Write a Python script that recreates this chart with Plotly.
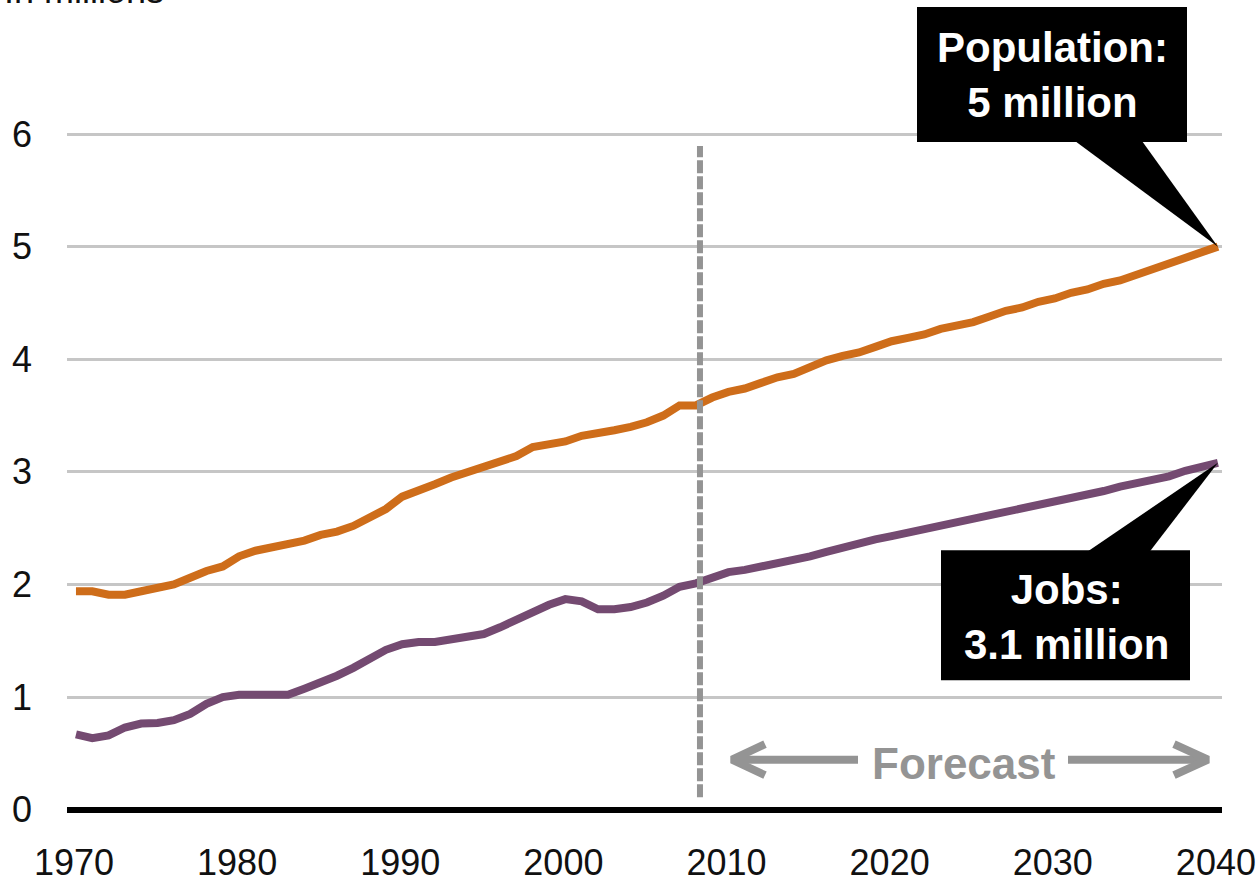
import plotly.graph_objects as go

# ---------------- data ----------------
years = list(range(1970, 2041))
population = [
    1.94, 1.94, 1.91, 1.91, 1.94, 1.97, 2.00, 2.06, 2.12, 2.16,
    2.25, 2.30, 2.33, 2.36, 2.39, 2.44, 2.47, 2.52, 2.59, 2.67,
    2.78, 2.83, 2.89, 2.95, 3.00, 3.04, 3.09, 3.14, 3.22, 3.25,
    3.27, 3.32, 3.34, 3.37, 3.40, 3.44, 3.50, 3.59, 3.59, 3.66,
    3.71, 3.74, 3.79, 3.84, 3.87, 3.93, 3.99, 4.03, 4.06, 4.11,
    4.16, 4.19, 4.22, 4.27, 4.30, 4.33, 4.38, 4.43, 4.46, 4.51,
    4.54, 4.59, 4.62, 4.67, 4.70, 4.75, 4.79, 4.84, 4.89, 4.94,
    5.00,
]
jobs = [
    0.67, 0.635, 0.66, 0.73, 0.765, 0.77, 0.795, 0.85, 0.94, 1.00,
    1.02, 1.02, 1.02, 1.02, 1.075, 1.13, 1.19, 1.26, 1.34, 1.42,
    1.47, 1.49, 1.49, 1.51, 1.53, 1.56, 1.62, 1.69, 1.76, 1.82,
    1.87, 1.85, 1.78, 1.78, 1.80, 1.84, 1.90, 1.98, 2.01, 2.06,
    2.11, 2.13, 2.16, 2.19, 2.21, 2.25, 2.29, 2.33, 2.37, 2.40,
    2.43, 2.46, 2.49, 2.52, 2.55, 2.59, 2.61, 2.64, 2.67, 2.71,
    2.74, 2.77, 2.80, 2.83, 2.87, 2.90, 2.93, 2.96, 3.01, 3.04,
    3.08,
]
x_ticks = [1970, 1980, 1990, 2000, 2010, 2020, 2030, 2040]
y_ticks = [0, 1, 2, 3, 4, 5, 6]
forecast_start = 2008.25
pop_label = "Population:<br>5 million"
jobs_label = "Jobs:<br>3.1 million"
unit_label = "In millions"
forecast_label = "Forecast"

# ---------------- layout geometry ----------------
W, H = 1256, 884
ML, MR, MT, MB = 67, 34, 100, 63.24
X0, X1 = 1969.45, 2040.25
Y0, Y1 = -0.1, 6.302
PW = W - ML - MR
PH = H - MT - MB

ORANGE = "#CE6D1A"
PURPLE = "#744A71"
GREY = "#949494"
TICKFONT = dict(family="Liberation Sans Narrow, Arial Narrow, Liberation Sans, Arial, sans-serif",
                size=36, color="#111111")
BOLD = "Liberation Sans, Arial, sans-serif"


def px_x(p):   # pixel -> paper x
    return (p - ML) / PW


def px_y(p):   # pixel -> paper y
    return (H - MB - p) / PH


def dx(p):     # pixel -> data x
    return X0 + (p - ML) / PW * (X1 - X0)


def dy(p):     # pixel -> data y
    return Y0 + (H - MB - p) / PH * (Y1 - Y0)


def data_to_paper(x, y):
    return (x - X0) / (X1 - X0), (y - Y0) / (Y1 - Y0)


fig = go.Figure()

fig.add_trace(go.Scatter(x=years, y=population, mode="lines",
                         line=dict(color=ORANGE, width=8), hoverinfo="skip",
                         showlegend=False))
fig.add_trace(go.Scatter(x=years, y=jobs, mode="lines",
                         line=dict(color=PURPLE, width=8), hoverinfo="skip",
                         showlegend=False))

# forecast arrows
ay = 759.5
arrow_x = [dx(765), dx(732), dx(765), None, dx(732), dx(858), None,
           dx(1068), dx(1208), None, dx(1174), dx(1208), dx(1174)]
arrow_y = [dy(744), dy(ay), dy(775), None, dy(ay), dy(ay), None,
           dy(ay), dy(ay), None, dy(744), dy(ay), dy(775)]
fig.add_trace(go.Scatter(x=arrow_x, y=arrow_y, mode="lines",
                         line=dict(color=GREY, width=8), hoverinfo="skip",
                         showlegend=False))

shapes = []
# forecast divider
shapes.append(dict(type="line", xref="x", yref="y", x0=forecast_start, x1=forecast_start,
                   y0=dy(797), y1=dy(146), line=dict(color=GREY, width=6, dash="13px,3px"),
                   layer="above"))

# callouts
pt_x, pt_y = data_to_paper(years[-1], population[-1])
shapes.append(dict(type="rect", xref="paper", yref="paper",
                   x0=px_x(917), x1=px_x(1187), y0=px_y(142), y1=px_y(7),
                   fillcolor="black", line=dict(width=0), layer="above"))
shapes.append(dict(type="path", xref="paper", yref="paper",
                   path=f"M{px_x(1075)},{px_y(141)} L{px_x(1142)},{px_y(141)} L{pt_x},{pt_y} Z",
                   fillcolor="black", line=dict(width=0), layer="above"))
jt_x, jt_y = data_to_paper(years[-1], jobs[-1])
shapes.append(dict(type="rect", xref="paper", yref="paper",
                   x0=px_x(941), x1=px_x(1190), y0=px_y(680), y1=px_y(550),
                   fillcolor="black", line=dict(width=0), layer="above"))
shapes.append(dict(type="path", xref="paper", yref="paper",
                   path=f"M{px_x(1088)},{px_y(551)} L{px_x(1150)},{px_y(551)} L{jt_x},{jt_y} Z",
                   fillcolor="black", line=dict(width=0), layer="above"))

annotations = [
    dict(text=pop_label, xref="paper", yref="paper", x=px_x(1052), y=px_y(75),
         xanchor="center", yanchor="middle", showarrow=False,
         font=dict(family=BOLD, size=42, color="white", weight="bold")),
    dict(text=jobs_label, xref="paper", yref="paper", x=px_x(1066), y=px_y(617),
         xanchor="center", yanchor="middle", showarrow=False,
         font=dict(family=BOLD, size=42, color="white", weight="bold")),
    dict(text=forecast_label, xref="paper", yref="paper", x=px_x(964), y=px_y(763),
         xanchor="center", yanchor="middle", showarrow=False,
         font=dict(family=BOLD, size=44, color=GREY, weight="bold")),
    dict(text=unit_label, xref="paper", yref="paper", x=px_x(2), y=px_y(13),
         xanchor="left", yanchor="bottom", showarrow=False,
         font=dict(family=TICKFONT["family"], size=36, color="#111111")),
]

fig.update_layout(
    width=W, height=H,
    margin=dict(l=ML, r=MR, t=MT, b=MB, pad=0, autoexpand=False),
    plot_bgcolor="white", paper_bgcolor="white",
    shapes=shapes, annotations=annotations,
    xaxis=dict(range=[X0, X1], tickvals=x_ticks, ticktext=[str(v) for v in x_ticks],
               showgrid=False, zeroline=False, showline=False, ticks="",
               tickfont=TICKFONT, ticklabelstandoff=17, ticklabelshift=-2,
               automargin=False, ticklabeloverflow="allow"),
    yaxis=dict(range=[Y0, Y1], tickvals=y_ticks, ticktext=[str(v) for v in y_ticks],
               showgrid=True, gridcolor="#C6C6C6", gridwidth=2.5,
               zeroline=True, zerolinecolor="black", zerolinewidth=5.5,
               showline=False, ticks="", tickfont=TICKFONT, ticklabelstandoff=34,
               automargin=False, ticklabeloverflow="allow"),
)

fig.write_html("out.html", config={"displayModeBar": False},
               post_script="document.body.style.margin='0';document.body.style.overflow='hidden';")
